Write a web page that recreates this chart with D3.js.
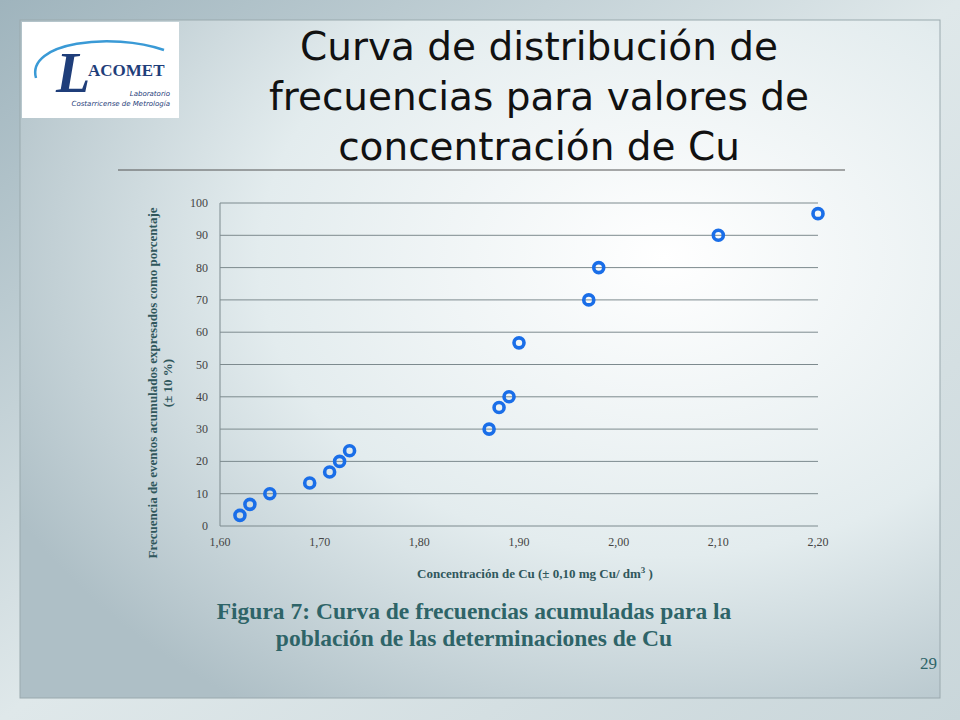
<!DOCTYPE html>
<html>
<head>
<meta charset="UTF-8">
<script src="https://cdnjs.cloudflare.com/ajax/libs/d3/7.9.0/d3.min.js"></script>
<style>
  body { margin: 0; }
  svg { display: block; }
</style>
</head>
<body>
<svg id="svg" width="960" height="720"></svg>
<script>
  // data
  const concentration = [1.62, 1.63, 1.65, 1.69, 1.71, 1.72, 1.73, 1.87, 1.88, 1.89, 1.90, 1.97, 1.98, 2.10, 2.20];
  const frequency = [3.3, 6.7, 10, 13.3, 16.7, 20, 23.3, 30, 36.7, 40, 56.7, 70, 80, 90, 96.7];
  const xTicks = [1.6, 1.7, 1.8, 1.9, 2.0, 2.1, 2.2];
  const yTicks = [0, 10, 20, 30, 40, 50, 60, 70, 80, 90, 100];
  const titleLines = ["Curva de distribución de", "frecuencias para valores de", "concentración de Cu"];
  const captionLines = ["Figura 7: Curva de frecuencias acumuladas para la", "población de las determinaciones de Cu"];

  const svg = d3.select("#svg");
  const defs = svg.append("defs");

  // slide background
  const bg = defs.append("linearGradient").attr("id", "bg").attr("x1", 0).attr("y1", 0).attr("x2", 1).attr("y2", 1);
  bg.append("stop").attr("offset", "0%").attr("stop-color", "#9fb4bd");
  bg.append("stop").attr("offset", "50%").attr("stop-color", "#dfe8ea");
  bg.append("stop").attr("offset", "100%").attr("stop-color", "#c9d6da");
  svg.append("rect").attr("width", 960).attr("height", 720).attr("fill", "url(#bg)");

  const inner = defs.append("radialGradient").attr("id", "inner").attr("cx", "70%").attr("cy", "35%").attr("r", "80%");
  inner.append("stop").attr("offset", "0%").attr("stop-color", "#ffffff");
  inner.append("stop").attr("offset", "55%").attr("stop-color", "#e3ecee");
  inner.append("stop").attr("offset", "100%").attr("stop-color", "#aebfc6");
  svg.append("rect").attr("x", 20).attr("y", 20).attr("width", 920).attr("height", 678)
    .attr("fill", "url(#inner)").attr("stroke", "#9aa9ae");

  // logo
  const logo = svg.append("g").attr("transform", "translate(22,22)");
  logo.append("rect").attr("width", 157).attr("height", 96).attr("fill", "#ffffff");
  logo.append("path").attr("d", "M14,56 C4,20 90,10 142,28").attr("fill", "none")
    .attr("stroke", "#3a9ad6").attr("stroke-width", 2.5);
  logo.append("text").attr("x", 34).attr("y", 70).attr("font-family", "Liberation Serif")
    .attr("font-style", "italic").attr("font-weight", "bold").attr("font-size", 56).attr("fill", "#1f3e7a").text("L");
  logo.append("text").attr("x", 66).attr("y", 54).attr("font-family", "Liberation Serif")
    .attr("font-weight", "bold").attr("font-size", 17).attr("fill", "#1f3e7a").text("ACOMET");
  logo.append("text").attr("x", 148).attr("y", 74).attr("text-anchor", "end").attr("font-family", "DejaVu Sans")
    .attr("font-style", "italic").attr("font-size", 7).attr("fill", "#1f3e7a").text("Laboratorio");
  logo.append("text").attr("x", 148).attr("y", 84).attr("text-anchor", "end").attr("font-family", "DejaVu Sans")
    .attr("font-style", "italic").attr("font-size", 7).attr("fill", "#1f3e7a").text("Costarricense de Metrología");

  // title
  svg.append("g").selectAll("text").data(titleLines).join("text")
    .attr("x", 539).attr("y", (d, i) => 60 + i * 50)
    .attr("text-anchor", "middle").attr("font-family", "DejaVu Sans")
    .attr("font-size", 39).attr("fill", "#111").text(d => d);
  svg.append("line").attr("x1", 118).attr("x2", 845).attr("y1", 170).attr("y2", 170)
    .attr("stroke", "#555").attr("stroke-width", 1);

  // chart
  const x = d3.scaleLinear().domain([1.6, 2.2]).range([220, 818]);
  const y = d3.scaleLinear().domain([0, 100]).range([526, 203]);
  const comma = v => d3.format(".2f")(v).replace(".", ",");

  svg.append("g").selectAll("line").data(yTicks).join("line")
    .attr("x1", 220).attr("x2", 818).attr("y1", d => y(d)).attr("y2", d => y(d))
    .attr("stroke", "#7d8a8e").attr("stroke-width", 1);
  svg.append("line").attr("x1", 220).attr("x2", 220).attr("y1", 203).attr("y2", 526).attr("stroke", "#7d8a8e");

  svg.append("g").selectAll("text").data(yTicks).join("text")
    .attr("x", 208).attr("y", d => y(d) + 4).attr("text-anchor", "end")
    .attr("font-family", "Liberation Serif").attr("font-size", 12).attr("fill", "#444").text(d => d);
  svg.append("g").selectAll("text").data(xTicks).join("text")
    .attr("x", d => x(d)).attr("y", 546).attr("text-anchor", "middle")
    .attr("font-family", "Liberation Serif").attr("font-size", 12).attr("fill", "#444").text(comma);

  const xl = svg.append("text").attr("x", 535).attr("y", 578).attr("text-anchor", "middle")
    .attr("font-family", "Liberation Serif").attr("font-weight", "bold").attr("font-size", 13).attr("fill", "#30575c");
  xl.append("tspan").text("Concentración de Cu (± 0,10 mg Cu/ dm");
  xl.append("tspan").attr("dy", -5).attr("font-size", 9).text("3");
  xl.append("tspan").attr("dy", 5).text(" )");

  const yl = svg.append("text").attr("transform", "translate(157,383) rotate(-90)")
    .attr("text-anchor", "middle").attr("font-family", "Liberation Serif").attr("font-weight", "bold")
    .attr("font-size", 13).attr("fill", "#30575c");
  yl.append("tspan").attr("x", 0).attr("y", 0).text("Frecuencia de eventos acumulados expresados como porcentaje");
  yl.append("tspan").attr("x", 0).attr("y", 15).text("(± 10 %)");

  svg.append("g").selectAll("circle").data(concentration).join("circle")
    .attr("cx", d => x(d)).attr("cy", (d, i) => y(frequency[i])).attr("r", 5)
    .attr("fill", "none").attr("stroke", "#1a6ee8").attr("stroke-width", 3.6);

  // caption
  svg.append("g").selectAll("text").data(captionLines).join("text")
    .attr("x", 474).attr("y", (d, i) => 619 + i * 27).attr("text-anchor", "middle")
    .attr("font-family", "Liberation Serif").attr("font-weight", "bold").attr("font-size", 23.5)
    .attr("fill", "#2e6468").text(d => d);

  svg.append("text").attr("x", 937).attr("y", 669).attr("text-anchor", "end")
    .attr("font-family", "Liberation Serif").attr("font-size", 17).attr("fill", "#2e6468").text("29");
</script>
</body>
</html>
